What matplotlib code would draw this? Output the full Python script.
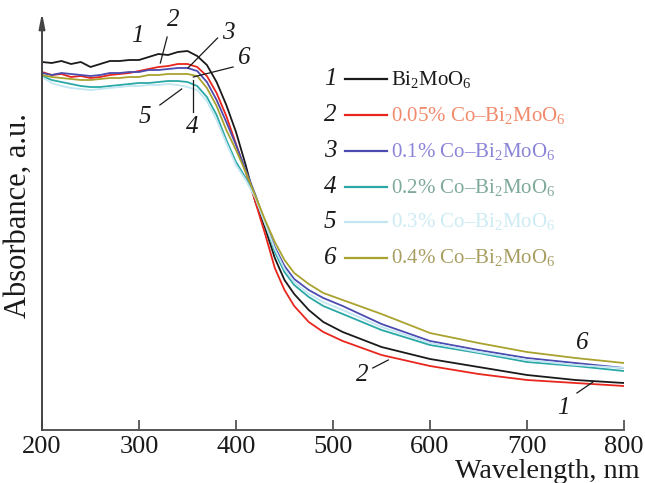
import matplotlib
matplotlib.use("Agg")
import matplotlib.pyplot as plt

plt.rcParams['font.family'] = ['Liberation Serif', 'DejaVu Serif']
plt.rcParams['mathtext.fontset'] = 'custom'
plt.rcParams['mathtext.rm'] = 'Liberation Serif'
plt.rcParams['mathtext.it'] = 'Liberation Serif:italic'

# Diffuse-reflectance absorbance spectra (arbitrary units)
wavelength = [200, 210, 220, 230, 240, 250, 260, 270, 280, 290, 300, 310, 320, 330,
              340, 350, 360, 370, 380, 390, 400, 410, 420, 430, 440, 450, 460,
              475, 490, 510, 550, 600, 650, 700, 750, 800]

abs_bi2moo6 = [368, 367, 369, 366, 368, 363, 366, 369, 369, 370, 370, 373, 376, 375,
               378, 379, 374, 365, 348, 325, 298, 265, 228, 202, 172, 150, 136,
               120, 108, 98, 83, 71, 63, 55, 50, 47]
abs_co005 = [358, 355, 356, 353, 354, 352, 353, 355, 356, 357, 359, 361, 363, 364,
             366, 366, 363, 354, 337, 314, 286, 258, 228, 196, 162, 140, 124,
             108, 98, 89, 75, 64, 56, 50, 47, 44]
abs_co01 = [357, 355, 357, 356, 355, 354, 355, 357, 357, 358, 358, 360, 360, 361,
            362, 362, 359, 348, 330, 308, 285, 260, 235, 207, 183, 164, 151,
            140, 132, 124, 106, 89, 80, 72, 67, 62]
abs_co02 = [354, 350, 348, 346, 344, 343, 343, 344, 345, 346, 347, 347, 348, 349,
            349, 348, 344, 333, 315, 290, 268, 252, 234, 207, 178, 158, 145,
            133, 124, 116, 100, 85, 77, 68, 64, 59]
abs_co03 = [353, 347, 344, 342, 341, 340, 341, 342, 343, 344, 344, 345, 345, 346,
            345, 343, 340, 329, 310, 287, 265, 250, 232, 206, 181, 161, 148,
            136, 128, 120, 103, 87, 78, 70, 65, 62]
abs_co04 = [355, 353, 352, 351, 350, 350, 351, 352, 352, 353, 353, 355, 355, 356,
            356, 356, 354, 342, 324, 300, 280, 258, 234, 210, 188, 170, 157,
            146, 137, 130, 116, 97, 87, 78, 72, 67]

series = [abs_bi2moo6, abs_co005, abs_co01, abs_co02, abs_co03, abs_co04]
numbers = ['1', '2', '3', '4', '5', '6']
names = ['Bi$_\\mathrm{2}$MoO$_\\mathrm{6}$',
         '0.05% Co–Bi$_\\mathrm{2}$MoO$_\\mathrm{6}$',
         '0.1% Co–Bi$_\\mathrm{2}$MoO$_\\mathrm{6}$',
         '0.2% Co–Bi$_\\mathrm{2}$MoO$_\\mathrm{6}$',
         '0.3% Co–Bi$_\\mathrm{2}$MoO$_\\mathrm{6}$',
         '0.4% Co–Bi$_\\mathrm{2}$MoO$_\\mathrm{6}$']
line_colors = ['#1a1a1a', '#e8261e', '#4b4bb0', '#2aa8a6', '#c2e6f2', '#a9a22e']
text_colors = ['#1a1a1a', '#f28a6c', '#8b85d8', '#7fa998', '#cdebf4', '#a89e62']

xticks = [200, 300, 400, 500, 600, 700, 800]

W, H = 645, 483
fig = plt.figure(figsize=(W / 100, H / 100), dpi=100)
ax = fig.add_axes([42 / W, 53 / H, 582 / W, 415 / H])
ax.set_xlim(200, 800)
ax.set_ylim(0, 415)

for vals, col in zip(series, line_colors):
    ax.plot(wavelength, vals, color=col, lw=1.3)

axis_col = '#555555'
for side in ['top', 'right', 'left']:
    ax.spines[side].set_visible(False)
ax.spines['bottom'].set_color(axis_col)
ax.spines['bottom'].set_linewidth(1.4)
ax.set_xticks(xticks)
ax.set_yticks([])
ax.tick_params(axis='x', direction='in', length=7, width=1.3, color=axis_col,
               labelsize=19, pad=4, labelcolor='#1a1a1a')

# vertical axis drawn as an arrow
ax.annotate('', xy=(0, 1.005), xytext=(0, 0), xycoords='axes fraction',
            arrowprops=dict(arrowstyle='-|>,head_length=0.9,head_width=0.18',
                            color='#444444', lw=1.4, shrinkA=0, shrinkB=0),
            annotation_clip=False)

fig.text(640 / W, 1 - 478 / H, 'Wavelength, nm', ha='right', va='baseline',
         fontsize=20.3, color='#1a1a1a')
fig.text(18 / W, 1 - 216 / H, 'Absorbance, a.u.', ha='center', va='center',
         rotation=90, fontsize=22, color='#1a1a1a')

# curve labels with leader lines
lab_kw = dict(fontsize=18, style='italic', ha='center', va='center', color='#1a1a1a')
curve_labels = [('1', 298, 394), ('2', 335, 410), ('3', 392, 397), ('6', 409, 372),
                ('5', 306, 313), ('4', 355, 303), ('2', 530, 55), ('1', 737, 22),
                ('6', 757, 87)]
for t, x, y in curve_labels:
    ax.text(x, y, t, **lab_kw)
leaders = [((329, 393), (322, 367)), ((381, 392), (350.5, 362)),
           ((397, 363), (356, 353)), ((321.5, 325), (344, 341)),
           ((355.7, 350), (355.7, 318)), ((541, 62), (557, 70)),
           ((751.5, 37), (768, 48))]
for (x0, y0), (x1, y1) in leaders:
    ax.plot([x0, x1], [y0, y1], color='#1a1a1a', lw=0.9)

# legend drawn in figure pixel coordinates
rows = [79, 115, 151, 187, 222, 258]
for num, name, lc, tc, py in zip(numbers, names, line_colors, text_colors, rows):
    fy = 1 - py / H
    fig.text(330 / W, fy, num, fontsize=18, style='italic', ha='center',
             va='center', color='#1a1a1a')
    fig.add_artist(plt.Line2D([345 / W, 387 / W], [fy, fy], color=lc, lw=1.6,
                              transform=fig.transFigure))
    fig.text(391 / W, fy, name, fontsize=15, ha='left', va='center', color=tc)

fig.savefig('out.png', dpi=100)
